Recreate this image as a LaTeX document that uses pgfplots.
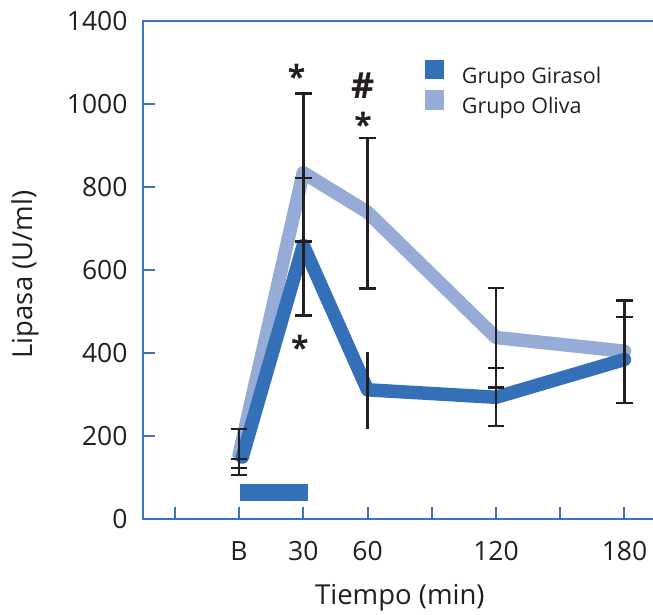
\documentclass[border=0pt]{standalone}
\usepackage{fontspec}
\setmainfont{Open Sans}
\usepackage{pgfplots}
\pgfplotsset{compat=1.18}
\usetikzlibrary{calc}
\definecolor{axblue}{RGB}{58,116,190}
\definecolor{girasol}{RGB}{51,112,184}
\definecolor{oliva}{RGB}{151,171,215}
\definecolor{txt}{RGB}{35,31,32}
\pgfplotsset{
  sqlegend/.style={legend image code/.code={\fill[##1, draw=none, line width=0pt] (0bp,-3.75bp) rectangle (19.6bp,15.75bp);}},
}
\begin{document}
\begin{tikzpicture}
\begin{axis}[
  name=ax,
  scale only axis,
  width=524.6bp, height=498bp,
  xmin=-45, xmax=200, ymin=0, ymax=1200,
  xtick={-30,0,30,60,90,120,150,180},
  xticklabels={,B,30,60,,120,,180},
  ytick={0,200,400,600,800,1000,1200},
  yticklabels={0,200,400,600,800,1000,1400},
  tick align=inside,
  tick pos=left,
  major tick length=12.5bp,
  tick style={line width=2bp, color=axblue},
  axis line style={line width=2bp, color=axblue},
  tick label style={font=\fontsize{26.5bp}{31bp}\selectfont, color=txt},
  yticklabel style={anchor=east, inner sep=0pt, xshift=-15bp},
  xticklabel style={anchor=base, inner sep=0pt, yshift=-41.4bp},
  xlabel={Tiempo (min)}, ylabel={Lipasa (U/ml)},
  label style={font=\fontsize{27.5bp}{32bp}\selectfont, color=txt},
  xlabel style={at={(axis cs:75.1,-206.5)}, anchor=base, inner sep=0pt},
  ylabel style={at={(axis cs:-100,590)}, anchor=center, inner sep=0pt},
  sqlegend,
  reverse legend,
  legend cell align=left,
  legend style={draw=none, fill=none, at={(axis cs:86.7,1107.5)}, anchor=north west,
    inner sep=0pt, row sep=5.5bp, column sep=17.4bp,
    font=\fontsize{21.5bp}{25bp}\selectfont, text=txt, nodes={inner sep=0pt}},
]
% time bar
\addplot[fill=girasol, draw=none, forget plot] coordinates {(0.5,45) (32.1,45) (32.1,85) (0.5,85)} -- cycle;

\addplot[oliva, line width=13.5bp, line cap=round, line join=round]
  coordinates {(0,155) (30,835) (60,740) (120,438) (180,405)};
\addlegendentry{Grupo Oliva}
\addplot[girasol, line width=13.5bp, line cap=round, line join=round]
  coordinates {(1.5,150) (30,660) (60,312) (120,294) (180,385)};
\addlegendentry{Grupo Girasol}

% error bars
\addplot[draw=none, forget plot,
  error bars/.cd, y dir=both, y explicit,
  error bar style={draw=txt, line width=2.6bp},
  error mark options={draw=txt, rotate=90, mark size=8.3bp, line width=2.6bp}]
  table[x=x, y=y, y error=e] {
x y e
0 126 19
0 171 47
30 847.5 178.5
30 656.5 165.5
60 737.5 181.5
120 437 120
120 295 70
180 403.5 123.5
180 383.5 103.5
};
\addplot[draw=none, forget plot,
  error bars/.cd, y dir=both, y explicit, error mark=none,
  error bar style={draw=txt, line width=2.6bp}]
  table[x=x, y=y, y error=e] {
x y e
60 309.5 92.5
};

\node[font=\bfseries\fontsize{32bp}{36bp}\selectfont, text=txt, anchor=base, inner sep=0pt, yshift=-18bp] at (axis cs:26.9,1082.6) {*};
\node[font=\bfseries\fontsize{32bp}{36bp}\selectfont, text=txt, anchor=base, inner sep=0pt, yshift=-18bp] at (axis cs:57.9,965.8) {*};
\node[font=\bfseries\fontsize{32bp}{36bp}\selectfont, text=txt, anchor=base, inner sep=0pt, yshift=-18bp] at (axis cs:28.4,428) {*};
\node[font=\bfseries\fontsize{36bp}{40bp}\selectfont, text=txt, anchor=center, inner sep=0pt] at (axis cs:57.9,1044) {\#};
\end{axis}
\pgfresetboundingbox
\path[use as bounding box] ($(ax.south west)+(-142.7bp,-95.7bp)$) rectangle ++(653bp,615bp);
\end{tikzpicture}
\end{document}
